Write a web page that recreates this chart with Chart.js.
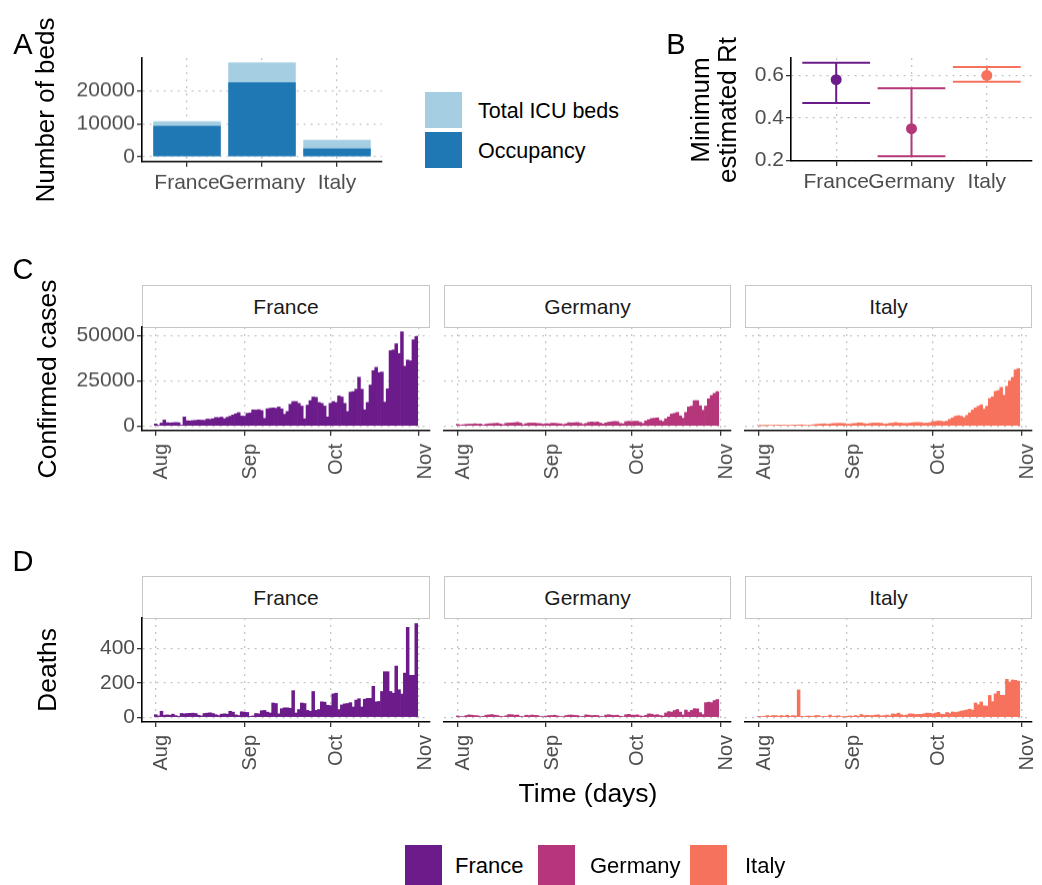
<!DOCTYPE html>
<html>
<head>
<meta charset="utf-8">
<script src="https://cdn.jsdelivr.net/npm/chart.js@4.4.0/dist/chart.umd.min.js"></script>
<style>
  body { margin: 0; background: #fff; font-family: "Liberation Sans", Arial, sans-serif; }
  #fig { position: relative; width: 1042px; height: 885px; overflow: hidden; background: #fff; }
  .strip { position: absolute; box-sizing: border-box; border: 1px solid #c6c6c6; background: #fff;
           display: flex; align-items: center; justify-content: center; font-size: 21px; color: #1a1a1a; }
  .key { position: absolute; }
</style>
</head>
<body>
<div id="fig"></div>
<script>
// ---- data ----
const countries = ["France", "Germany", "Italy"];
const countryColors = ["#6C1C8A", "#B5367A", "#F7725C"];

const bedSeries = ["Total ICU beds", "Occupancy"];
const bedColors = ["#A6CEE3", "#1F78B4"];
const icuTotal = [10700, 28500, 5100];
const icuOccupancy = [9400, 22500, 2500];

const rtLow = [0.47, 0.22, 0.57];
const rtMid = [0.58, 0.35, 0.60];
const rtHigh = [0.66, 0.54, 0.64];

// daily values, 1 Aug .. 31 Oct
const monthLabels = ["Aug", "Sep", "Oct", "Nov"];
const monthDays = [0, 31, 61, 92];

const casesFrance = [
  1100, 400, 1600, 3300, 1800, 1700, 1800, 1900, 1800, 500, 5000, 2900, 2800, 3000, 3100, 3300,
  3200, 3100, 3800, 3700, 4000, 4700, 4600, 4900, 4000, 4800, 5400, 6100, 6800, 7400, 5500,
  5400, 7000, 7200, 8900, 8800, 9000, 8500, 4200, 9500, 9800, 10000, 9800, 10500, 9400, 6500,
  8000, 12000, 13500, 13500, 12500, 11000, 4000, 11500, 14000, 16000, 15800, 13000, 12500, 11000, 5000,
  12500, 13500, 13000, 16600, 16000, 12500, 8000, 18700, 19000, 20300, 26900, 20300, 8900, 13000,
  22600, 30600, 32400, 29500, 29800, 13200, 20500, 41600, 42000, 45400, 40000, 52000, 33000, 36400,
  36000, 47600, 49400
];
const casesGermany = [
  900, 500, 700, 900, 1000, 1000, 1200, 1000, 1100, 500, 1000, 1200, 1300, 1400,
  1500, 1100, 700, 1500, 1600, 1700, 1800, 2000, 1600, 700, 1300, 1600, 1600, 1600,
  1400, 1300, 1000, 1300, 1200, 1500, 1500, 1300, 1200, 800, 1200, 1800, 1700, 1800,
  1900, 1500, 900, 1400, 2000, 2200, 2000, 2200, 1600, 1100, 1700, 2100, 2300, 2500,
  2400, 1400, 1200, 2400, 2600, 2400, 2600, 2600, 2000, 1400, 2800, 3500, 4100, 4300,
  4500, 3000, 2500, 4000, 5000, 6600, 7000, 7500, 5600, 4300, 7500, 10500, 11000, 14000,
  14000, 11200, 8700, 11000, 15000, 16800, 18000, 19000
];
const casesItaly = [
  300, 240, 160, 190, 380, 400, 400, 550, 350, 460, 260, 400, 480, 520,
  580, 630, 480, 320, 400, 640, 850, 950, 1070, 1200, 950, 1100, 1370, 1400,
  1460, 1440, 1360, 1000, 1000, 1330, 1400, 1700, 1700, 1300, 1100, 1400, 1600, 1600,
  1600, 1500, 1000, 1200, 1500, 1600, 1900, 1600, 1600, 1400, 1400, 1600, 1800, 1900,
  1900, 1800, 1500, 1600, 1800, 2500, 2500, 2800, 2600, 2300, 2700, 3700, 4500, 5400,
  5700, 5400, 4600, 5900, 7300, 8800, 10000, 10900, 11700, 9300, 10900, 15200, 16100, 19100,
  19600, 21300, 17000, 21900, 24900, 26800, 31000, 31700
];
const deathsFrance = [
  15, 8, 35, 12, 14, 12, 18, 10, 5, 22, 20, 22, 23, 24,
  22, 12, 8, 22, 24, 26, 22, 15, 10, 18, 20, 18, 35, 30,
  14, 10, 32, 30, 28, 5, 8, 22, 20, 38, 40, 30, 25, 83,
  80, 20, 50, 55, 55, 52, 155, 25, 45, 83, 80, 40, 35, 150,
  40, 45, 90, 88, 70, 68, 136, 140, 45, 72, 78, 80, 85, 60,
  100, 108, 60, 105, 110, 110, 180, 90, 92, 150, 265, 265, 150, 140,
  298, 160, 135, 257, 523, 244, 244, 545
];
const deathsGermany = [
  8, 4, 3, 10, 14, 12, 10, 9, 4, 5, 12, 14, 16, 12,
  10, 5, 4, 9, 16, 15, 12, 13, 5, 4, 12, 10, 13, 11,
  10, 4, 3, 7, 10, 10, 12, 8, 4, 3, 10, 13, 13, 11,
  10, 4, 5, 14, 12, 10, 11, 10, 5, 4, 13, 15, 12, 11,
  12, 6, 4, 15, 17, 13, 12, 14, 8, 6, 12, 20, 18, 13,
  15, 10, 8, 25, 33, 30, 39, 45, 30, 14, 42, 30, 40, 50,
  49, 27, 16, 85, 88, 85, 97, 103
];
const deathsItaly = [
  5, 4, 5, 10, 6, 10, 10, 6, 10, 7, 12, 6, 10, 8,
  159, 5, 4, 7, 7, 5, 10, 10, 4, 6, 4, 13, 5, 7,
  9, 4, 1, 6, 8, 6, 10, 6, 16, 10, 12, 10, 10, 13,
  14, 8, 10, 13, 9, 20, 17, 24, 15, 10, 14, 20, 19, 16,
  17, 17, 20, 24, 23, 20, 24, 29, 18, 17, 28, 22, 31, 28,
  31, 36, 39, 43, 47, 42, 83, 73, 89, 67, 65, 127, 91, 136,
  151, 128, 128, 221, 205, 217, 215, 210
];

const bedTicks = [0, 10000, 20000];
const rtTicks = [0.2, 0.4, 0.6];
const caseTicks = [0, 25000, 50000];
const deathTicks = [0, 200, 400];

// ---- layout ----
const PLOT_A = { l: 142, t: 58, r: 382, b: 161.5 };
const PLOT_B = { l: 791, t: 58, r: 1032, b: 161 };
const FACET_X = [[142, 430], [444, 731], [745, 1032]];
const ROW_C = { t: 327, b: 430.5, strip: 285 };
const ROW_D = { t: 618, b: 722, strip: 576 };

const TICK_COLOR = "#4d4d4d";
const GRID = { color: "#c4c4c4", lineWidth: 1.3, tickLength: 5, tickColor: "#333333", tickWidth: 1.3 };
const DASH = [2, 5];

Chart.defaults.font.family = '"Liberation Sans", Arial, sans-serif';
Chart.defaults.animation = false;

const fig = document.getElementById("fig");

function addText(str, x, y, size, opts = {}) {
  const d = document.createElement("div");
  d.textContent = str;
  const tx = opts.left ? "0" : "-50%";
  d.style.cssText = `position:absolute;left:${x}px;top:${y}px;font-size:${size}px;` +
    `color:${opts.color || "#000"};white-space:nowrap;line-height:1.15;` +
    `transform:translate(${tx},-50%)${opts.rotate ? " rotate(-90deg)" : ""};`;
  fig.appendChild(d);
}

function addBox(x, y, w, h, color) {
  const d = document.createElement("div");
  d.className = "key";
  d.style.cssText = `left:${x}px;top:${y}px;width:${w}px;height:${h}px;background:${color};`;
  fig.appendChild(d);
}

function addStrip(label, x1, x2, top, bottom) {
  const d = document.createElement("div");
  d.className = "strip";
  d.textContent = label;
  d.style.left = x1 + "px";
  d.style.top = top + "px";
  d.style.width = (x2 - x1) + "px";
  d.style.height = (bottom - top + 1) + "px";
  fig.appendChild(d);
}

// canvas sized so that the chart area lands on the plot box
const PAD = { left: 40, right: 40, top: 16, bottom: 0 };
function addCanvas(plot, axisL, axisB) {
  const c = document.createElement("canvas");
  const w = plot.r - plot.l + axisL + PAD.left + PAD.right;
  const h = plot.b - plot.t + axisB + PAD.top;
  c.width = w; c.height = h;
  c.style.cssText = `position:absolute;left:${plot.l - axisL - PAD.left}px;top:${plot.t - PAD.top}px;width:${w}px;height:${h}px;`;
  fig.appendChild(c);
  return c;
}

function yScale(min, max, ticks, axisL, fmt) {
  const show = axisL > 0;
  return {
    type: "linear", min, max,
    afterBuildTicks: s => { s.ticks = ticks.map(v => ({ value: v })); },
    afterFit: s => { s.width = axisL; },
    ticks: { display: show, padding: 2, color: TICK_COLOR, font: { size: 21 }, callback: fmt || (v => String(v)) },
    grid: Object.assign({}, GRID, { drawTicks: show }),
    border: { display: show, color: "#000", width: 1.6, dash: DASH }
  };
}

function xCategoryScale(axisB) {
  return {
    type: "linear", min: 0.4, max: 3.6, offset: false,
    afterBuildTicks: s => { s.ticks = countries.map((c, i) => ({ value: i + 1 })); },
    afterFit: s => { s.height = axisB; },
    ticks: { autoSkip: false, maxRotation: 0, minRotation: 0, padding: 4, color: TICK_COLOR, font: { size: 21 },
             callback: (v, i) => countries[i] },
    grid: Object.assign({}, GRID, { offset: false }),
    border: { display: true, color: "#000", width: 1.6, dash: DASH }
  };
}

function xDayScale(axisB) {
  return {
    type: "linear", min: -4.8, max: 95.8, offset: false,
    afterBuildTicks: s => { s.ticks = monthDays.map(v => ({ value: v })); },
    afterFit: s => { s.height = axisB; },
    // rotated month labels sit just right of their tick, as in the source figure
    ticks: { autoSkip: false, maxRotation: 90, minRotation: 90, padding: 8, labelOffset: 6,
             color: TICK_COLOR, font: { size: 20 }, callback: (v, i) => monthLabels[i] },
    grid: Object.assign({}, GRID, { offset: false }),
    border: { display: true, color: "#000", width: 1.6, dash: DASH }
  };
}

const basePlugins = { legend: { display: false }, tooltip: { enabled: false } };

// ---- panel A: ICU beds ----
new Chart(addCanvas(PLOT_A, 75, 40), {
  type: "bar",
  data: {
    datasets: [
      { label: bedSeries[0], data: icuTotal.map((v, i) => ({ x: i + 1, y: v })), backgroundColor: bedColors[0], order: 2 },
      { label: bedSeries[1], data: icuOccupancy.map((v, i) => ({ x: i + 1, y: v })), backgroundColor: bedColors[1], order: 1 }
    ]
  },
  options: {
    responsive: false,
    layout: { padding: PAD },
    datasets: { bar: { grouped: false, barPercentage: 0.9, categoryPercentage: 1, borderWidth: 0 } },
    scales: { x: xCategoryScale(40), y: yScale(-1500, 29800, bedTicks, 75) },
    plugins: basePlugins
  }
});

// ---- panel B: minimum Rt ----
const capHalf = 0.45;
const rtDatasets = countries.map((c, i) => ({
  type: "line",
  label: c,
  data: [
    { x: i + 1 - capHalf, y: rtHigh[i] }, { x: i + 1 + capHalf, y: rtHigh[i] }, { x: i + 1, y: null },
    { x: i + 1, y: rtHigh[i] }, { x: i + 1, y: rtLow[i] }, { x: i + 1, y: null },
    { x: i + 1 - capHalf, y: rtLow[i] }, { x: i + 1 + capHalf, y: rtLow[i] }
  ],
  borderColor: countryColors[i], borderWidth: 2, pointRadius: 0, spanGaps: false, fill: false, tension: 0
}));
rtDatasets.push({
  type: "line",
  label: "estimate",
  data: rtMid.map((v, i) => ({ x: i + 1, y: v })),
  showLine: false, pointRadius: 5.5, pointBorderWidth: 0,
  pointBackgroundColor: countryColors, pointBorderColor: countryColors
});
new Chart(addCanvas(PLOT_B, 75, 40), {
  type: "line",
  data: { datasets: rtDatasets },
  options: {
    responsive: false,
    layout: { padding: PAD },
    scales: { x: xCategoryScale(40), y: yScale(0.198, 0.682, rtTicks, 75, v => v.toFixed(1)) },
    plugins: basePlugins
  }
});

// ---- panels C and D: daily facets ----
function facet(xr, row, values, color, yMin, yMax, ticks, showY) {
  const plot = { l: xr[0], r: xr[1], t: row.t, b: row.b };
  const axisL = showY ? 80 : 0;
  new Chart(addCanvas(plot, axisL, 60), {
    type: "bar",
    data: { datasets: [{ data: values.map((v, d) => ({ x: d, y: v })), backgroundColor: color,
                         borderWidth: 0, barPercentage: 1, categoryPercentage: 1 }] },
    options: {
      responsive: false,
      layout: { padding: PAD },
      scales: { x: xDayScale(60), y: yScale(yMin, yMax, ticks, axisL) },
      plugins: basePlugins
    }
  });
}

const caseSeries = [casesFrance, casesGermany, casesItaly];
const deathSeries = [deathsFrance, deathsGermany, deathsItaly];
countries.forEach((c, i) => {
  addStrip(c, FACET_X[i][0], FACET_X[i][1], ROW_C.strip, ROW_C.t);
  addStrip(c, FACET_X[i][0], FACET_X[i][1], ROW_D.strip, ROW_D.t);
  facet(FACET_X[i], ROW_C, caseSeries[i], countryColors[i], -2600, 54600, caseTicks, i === 0);
  facet(FACET_X[i], ROW_D, deathSeries[i], countryColors[i], -27.5, 577.5, deathTicks, i === 0);
});

// ---- text, titles, legends ----
addText("A", 23, 45, 29);
addText("B", 676, 45, 29);
addText("C", 23, 270, 29);
addText("D", 23, 562, 29);

addText("Number of beds", 46, 110, 26, { rotate: true });
addText("Minimum", 701, 110, 26, { rotate: true });
addText("estimated Rt", 728, 110, 26, { rotate: true });
addText("Confirmed cases", 47, 379, 26.5, { rotate: true });
addText("Deaths", 47, 670, 26.5, { rotate: true });
addText("Time (days)", 588, 793, 26.5);

// panel A legend
addBox(425, 92, 37, 36, bedColors[0]);
addBox(425, 132, 37, 36, bedColors[1]);
addText(bedSeries[0], 478, 111, 21.5, { left: true });
addText(bedSeries[1], 478, 151, 21.5, { left: true });

// country legend
const legendKeyX = [405, 538, 690];
const legendTextX = [455, 590, 745];
countries.forEach((c, i) => {
  addBox(legendKeyX[i], 845, 37, 40, countryColors[i]);
  addText(c, legendTextX[i], 866, 22, { left: true });
});
</script>
</body>
</html>
